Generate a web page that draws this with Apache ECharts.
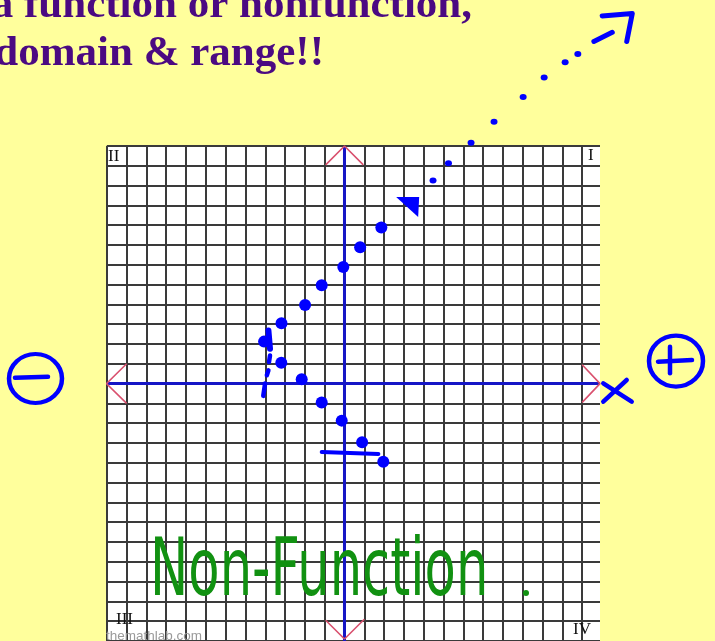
<!DOCTYPE html>
<html>
<head>
<meta charset="utf-8">
<script src="https://cdn.jsdelivr.net/npm/echarts@6/dist/echarts.min.js"></script>
<style>
  html, body { margin: 0; padding: 0; background: #ffff9c; }
  #main { width: 715px; height: 641px; }
</style>
</head>
<body>
<div id="main"></div>
<script>
// points of the relation plotted on the graph paper (x, y)
var upperX = [-4.06, -3.18, -1.99, -1.15, -0.06, 0.79, 1.86];
var upperY = [2.12, 3.05, 3.97, 4.97, 5.89, 6.89, 7.88];
var lowerX = [-3.19, -2.16, -1.15, -0.14, 0.89, 1.96];
var lowerY = [1.05, 0.22, -0.95, -1.87, -2.96, -3.95];
// hand drawn arrow head and dots that keep going up
var arrowHead = [3.19, 8.92];
var trailX = [4.47, 5.25, 6.39, 7.55, 9.02, 10.08, 11.14, 11.78];
var trailY = [10.26, 11.13, 12.16, 13.22, 14.47, 15.46, 16.23, 16.65];
// pen strokes in graph units
var strokes = [
  { pts: [[12.59, 17.28], [13.52, 17.74]], w: 5 },
  { pts: [[13.01, 18.57], [14.53, 18.69], [14.25, 17.28]], w: 5 },
  // vertical line test
  { pts: [[-3.84, 2.68], [-3.76, 1.76]], w: 6 },
  { pts: [[-3.76, 1.42], [-3.81, 1.09]], w: 4.5 },
  { pts: [[-3.84, 0.67], [-3.92, 0.42]], w: 4.5 },
  { pts: [[-4.01, 0], [-4.1, -0.62]], w: 4.5 },
  // horizontal line test
  { pts: [[-1.15, -3.46], [1.71, -3.55]], w: 4 }
];
// pink arrow marks at the ends of the axes
var axisArrows = [
  [[-0.95, 11.05], [0, 12], [0.95, 11.05]],
  [[-0.95, -11.95], [0, -12.9], [1, -11.9]],
  [[-11, 1], [-12.02, 0], [-11, -1]],
  [[12, 0.95], [12.9, 0], [12, -0.95]]
];
var xMin = -12, xMax = 12.9, yMin = -13, yMax = 12;

var chart = echarts.init(document.getElementById('main'));

function pairs(xs, ys) {
  return xs.map(function (x, i) { return [x, ys[i]]; });
}

var series = [];
// blue axes
series.push({
  type: 'line', data: [[xMin, 0], [xMax, 0]], symbol: 'none', silent: true, z: 3,
  lineStyle: { color: '#1616c6', width: 3 }
});
series.push({
  type: 'line', data: [[0, yMin], [0, yMax]], symbol: 'none', silent: true, z: 3,
  lineStyle: { color: '#1616c6', width: 3 }
});
axisArrows.forEach(function (a) {
  series.push({
    type: 'line', data: a, symbol: 'none', silent: true, z: 4, clip: false,
    lineStyle: { color: '#d9506e', width: 1.6 }
  });
});
series.push({
  type: 'scatter', data: pairs(upperX, upperY).concat(pairs(lowerX, lowerY)),
  symbolSize: 12, z: 7, clip: false, itemStyle: { color: '#0000ff', opacity: 1 }
});
series.push({
  type: 'scatter', data: [arrowHead], z: 7, clip: false,
  symbol: 'path://M0,0L23,0L22,20Z', symbolSize: [23, 20],
  itemStyle: { color: '#0000ff', opacity: 1 }
});
series.push({
  type: 'scatter', data: pairs(trailX, trailY), z: 7, clip: false,
  symbolSize: [7, 6], itemStyle: { color: '#0000ff', opacity: 1 }
});

var graphics = [
  // title lines, cropped at the top and left like the slide
  { type: 'text', x: 472, y: 6, z: 10, style: {
    text: 'a function or nonfunction,', fill: '#4b0a82', align: 'right', verticalAlign: 'middle',
    font: 'bold 43px "Liberation Serif", serif' } },
  { type: 'text', x: 324, y: 54, z: 10, style: {
    text: 'domain & range!!', fill: '#4b0a82', align: 'right', verticalAlign: 'middle',
    font: 'bold 43px "Liberation Serif", serif' } },
  // quadrant numerals
  { type: 'text', x: 108, y: 157, z: 10, style: { text: 'II', fill: '#111', verticalAlign: 'middle',
    font: '17px "Liberation Serif", serif' } },
  { type: 'text', x: 588, y: 156, z: 10, style: { text: 'I', fill: '#111', verticalAlign: 'middle',
    font: '17px "Liberation Serif", serif' } },
  { type: 'text', x: 116, y: 620, z: 10, style: { text: 'III', fill: '#111', verticalAlign: 'middle',
    font: '17px "Liberation Serif", serif' } },
  { type: 'text', x: 573, y: 630, z: 10, style: { text: 'IV', fill: '#111', verticalAlign: 'middle',
    font: '17px "Liberation Serif", serif' } },
  { type: 'text', x: 106, y: 636, z: 10, style: { text: 'themathlab.com', fill: '#9a9a9a', verticalAlign: 'middle',
    font: '13.5px "Liberation Sans", sans-serif' } },
  // green note
  { type: 'text', x: 150, y: 574, z: 10, scaleX: 0.64, style: {
    text: 'Non-Function', fill: '#119111', verticalAlign: 'middle',
    font: '80px "DejaVu Sans", sans-serif' } },
  { type: 'circle', x: 526, y: 593, z: 10, shape: { r: 3 }, style: { fill: '#119111' } },
  // circled minus and plus, hand written x
  { type: 'circle', x: 35.5, y: 378.5, scaleY: 24.5 / 26.5, z: 10, shape: { r: 26.5 },
    style: { fill: 'none', stroke: '#0000ff', lineWidth: 4.5 } },
  { type: 'line', z: 10, shape: { x1: 15, y1: 377.7, x2: 48, y2: 376.7 },
    style: { stroke: '#0000ff', lineWidth: 4.5, lineCap: 'round' } },
  { type: 'circle', x: 676, y: 361, scaleY: 25.5 / 27, z: 10, shape: { r: 27 },
    style: { fill: 'none', stroke: '#0000ff', lineWidth: 4.5 } },
  { type: 'line', z: 10, shape: { x1: 658, y1: 361.7, x2: 692, y2: 360 },
    style: { stroke: '#0000ff', lineWidth: 4.5, lineCap: 'round' } },
  { type: 'line', z: 10, shape: { x1: 670, y1: 346.7, x2: 670, y2: 373.3 },
    style: { stroke: '#0000ff', lineWidth: 4.5, lineCap: 'round' } },
  { type: 'line', z: 10, shape: { x1: 603.3, y1: 383.3, x2: 631.7, y2: 401.7 },
    style: { stroke: '#0000ff', lineWidth: 4.5, lineCap: 'round' } },
  { type: 'line', z: 10, shape: { x1: 626.7, y1: 380, x2: 603.3, y2: 401.7 },
    style: { stroke: '#0000ff', lineWidth: 4.5, lineCap: 'round' } }
];

var option = {
  backgroundColor: '#ffff9c',
  animation: false,
  grid: {
    left: 106.8, right: 115, top: 146, bottom: -3,
    show: true, backgroundColor: '#ffffff', borderWidth: 0
  },
  xAxis: {
    type: 'value', min: xMin, max: xMax, interval: 1,
    axisLine: { show: false }, axisTick: { show: false }, axisLabel: { show: false },
    splitLine: { show: true, showMaxLine: false, lineStyle: { color: '#3a3a3a', width: 2 } }
  },
  yAxis: {
    type: 'value', min: yMin, max: yMax, interval: 1,
    axisLine: { show: false }, axisTick: { show: false }, axisLabel: { show: false },
    splitLine: { show: true, lineStyle: { color: '#3a3a3a', width: 2 } }
  },
  graphic: graphics,
  series: series
};
chart.setOption(option);

// pen strokes go past the grid, so place them through the axes and draw them unclipped
var strokeEls = strokes.map(function (s) {
  return {
    type: 'polyline', z: 9,
    shape: { points: s.pts.map(function (p) { return chart.convertToPixel({ gridIndex: 0 }, p); }) },
    style: { fill: 'none', stroke: '#0000ff', lineWidth: s.w, lineCap: 'round', lineJoin: 'round' }
  };
});
chart.setOption({ graphic: graphics.concat(strokeEls) });
</script>
</body>
</html>
